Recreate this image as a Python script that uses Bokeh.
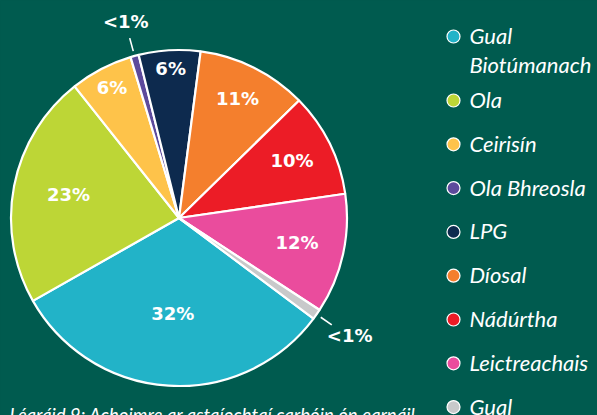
import numpy as np
from bokeh.plotting import figure
from bokeh.models import ColumnDataSource, GlobalInlineStyleSheet
from bokeh.core.properties import value
from bokeh.embed import file_html
from bokeh.resources import INLINE

# ---- data ----
categories = ["Gual Biotúmanach", "Ola", "Ceirisín", "Ola Bhreosla", "LPG",
              "Díosal", "Nádúrtha", "Leictreachais", "Gual"]
legend_labels = ["Gual\nBiotúmanach", "Ola", "Ceirisín", "Ola Bhreosla", "LPG",
                 "Díosal", "Nádúrtha", "Leictreachais", "Gual"]
shares = [31.5, 22.5, 6.0, 0.8, 5.9, 10.6, 10.0, 11.5, 1.0]
pct_labels = ["32%", "23%", "6%", "<1%", "6%", "11%", "10%", "12%", "<1%"]
colors = ["#22b3c8", "#bdd636", "#fec34a", "#5d4a9c", "#0d2a4e",
          "#f47f2d", "#ec1c26", "#ea4c9d", "#c8c9ca"]
caption = "Léaráid 9: Achoimre ar astaíochtaí carbóin ón earnáil"

# ---- layout / style ----
W, H = 597, 415
BG = "#005b4f"
cx, cy, R = 178.5, H - 217.5, 168.0
start_deg = -36.8
label_r = [0.58, 0.67, 0.86, 1.20, 0.88, 0.78, 0.75, 0.72, 1.24]
PCT_FONT = "DejaVu Sans"
TXT_FONT = "Lato"

total = float(sum(shares))
cum = np.concatenate([[0.0], np.cumsum(shares)])
hi = np.deg2rad(start_deg - cum[:-1] / total * 360.0)
lo = np.deg2rad(start_deg - cum[1:] / total * 360.0)
mid = (hi + lo) / 2.0
lr = np.array(label_r)

src = ColumnDataSource(dict(start=lo, end=hi, color=colors,
                            lx=cx + lr * R * np.cos(mid), ly=cy + lr * R * np.sin(mid) + 2,
                            lab=pct_labels))

p = figure(width=W, height=H, x_range=(0, W), y_range=(0, H),
           output_backend="svg", toolbar_location=None,
           background_fill_color=BG, border_fill_color=BG,
           min_border=0, outline_line_color=None)
p.axis.visible = False
p.grid.visible = False
p.stylesheets = [GlobalInlineStyleSheet(css=f"html, body {{ background: {BG}; }}")]

p.wedge(x=cx, y=cy, radius=R, start_angle="start", end_angle="end",
        direction="anticlock", fill_color="color", line_color="white",
        line_width=2.2, source=src)

p.text(x="lx", y="ly", text="lab", source=src, text_color="white",
       text_font=value(PCT_FONT), text_font_style="bold", text_font_size="18px",
       text_align="center", text_baseline="middle")

# leader lines for the small outside slices
outside = [i for i, r in enumerate(label_r) if r > 1.0]
x0 = [cx + 1.03 * R * np.cos(mid[i]) for i in outside]
y0 = [cy + 1.03 * R * np.sin(mid[i]) for i in outside]
x1 = [cx + 1.11 * R * np.cos(mid[i]) for i in outside]
y1 = [cy + 1.11 * R * np.sin(mid[i]) for i in outside]
p.segment(x0=x0, y0=y0, x1=x1, y1=y1, line_color="white", line_width=1.6)

# legend drawn manually
step, extra, ytop = 43.8, 20.2, H - 36.0
lx_c, lx_t = 453.0, 469.0
line_gap, mid_off = 29.0, 1.0
leg_y = [ytop - i * step - (extra if i > 0 else 0) for i in range(len(categories))]
p.scatter(x=[lx_c] * len(categories), y=leg_y, size=13, fill_color=colors,
          line_color="white", line_width=1.2)
tx, ty, tt = [], [], []
for y, lab in zip(leg_y, legend_labels):
    for j, line in enumerate(lab.split("\n")):
        tx.append(lx_t)
        ty.append(y + mid_off - j * line_gap)
        tt.append(line)
p.text(x=tx, y=ty, text=tt, text_color="white", text_font=value(TXT_FONT),
       text_font_style="italic", text_font_size="22px", text_align="left",
       text_baseline="middle")

p.text(x=[9], y=[H - 414], text=[caption], text_color="white", text_font=value(TXT_FONT),
       text_font_style="italic", text_font_size="18.6px", text_align="left",
       text_baseline="middle")

open("out.html", "w").write(file_html(p, INLINE))
